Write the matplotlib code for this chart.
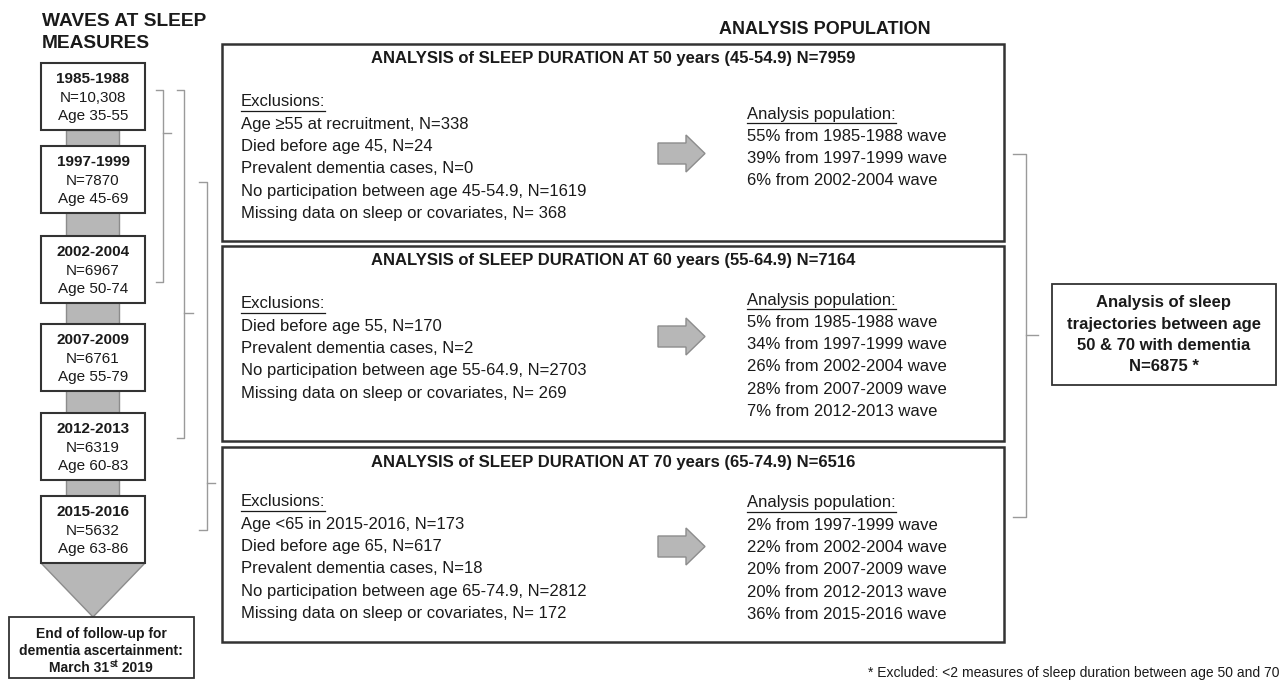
import matplotlib
matplotlib.use('Agg')
import matplotlib.pyplot as plt
from matplotlib.patches import Rectangle, Polygon

plt.rcParams['font.family'] = ['Liberation Sans', 'DejaVu Sans']

# waves of sleep measures
waves = ['1985-1988', '1997-1999', '2002-2004', '2007-2009', '2012-2013', '2015-2016']
wave_n = ['N=10,308', 'N=7870', 'N=6967', 'N=6761', 'N=6319', 'N=5632']
wave_age = ['Age 35-55', 'Age 45-69', 'Age 50-74', 'Age 55-79', 'Age 60-83', 'Age 63-86']

# analysis boxes
titles = ['ANALYSIS of SLEEP DURATION AT 50 years (45-54.9) N=7959',
          'ANALYSIS of SLEEP DURATION AT 60 years (55-64.9) N=7164',
          'ANALYSIS of SLEEP DURATION AT 70 years (65-74.9) N=6516']
exclusions = [
    ['Age \u226555 at recruitment, N=338', 'Died before age 45, N=24',
     'Prevalent dementia cases, N=0', 'No participation between age 45-54.9, N=1619',
     'Missing data on sleep or covariates, N= 368'],
    ['Died before age 55, N=170', 'Prevalent dementia cases, N=2',
     'No participation between age 55-64.9, N=2703',
     'Missing data on sleep or covariates, N= 269'],
    ['Age <65 in 2015-2016, N=173', 'Died before age 65, N=617',
     'Prevalent dementia cases, N=18', 'No participation between age 65-74.9, N=2812',
     'Missing data on sleep or covariates, N= 172'],
]
population = [
    ['55% from 1985-1988 wave', '39% from 1997-1999 wave', '6% from 2002-2004 wave'],
    ['5% from 1985-1988 wave', '34% from 1997-1999 wave', '26% from 2002-2004 wave',
     '28% from 2007-2009 wave', '7% from 2012-2013 wave'],
    ['2% from 1997-1999 wave', '22% from 2002-2004 wave', '20% from 2007-2009 wave',
     '20% from 2012-2013 wave', '36% from 2015-2016 wave'],
]
final_box = ['Analysis of sleep', 'trajectories between age', '50 & 70 with dementia',
             'N=6875 *']
footnote = '* Excluded: <2 measures of sleep duration between age 50 and 70'

TXT = '#1a1a1a'
EDGE = '#333333'
GREY = '#b7b7b7'
GREY_EDGE = '#8c8c8c'
BRK = '#9a9a9a'
BODY = 12

fig = plt.figure(figsize=(12.82, 6.83), dpi=100)
ax = fig.add_axes([0, 0, 1, 1])
ax.set_xlim(0, 1282)
ax.set_ylim(683, 0)
ax.axis('off')

# ---- left column: waves
ax.text(42, 21, 'WAVES AT SLEEP', fontsize=13.8, weight='bold', color=TXT, va='center')
ax.text(42, 44, 'MEASURES', fontsize=13.8, weight='bold', color=TXT, va='center')

box_top = [63, 146, 236, 324, 413, 496]
bh = 67
bx0, bx1 = 41, 145
# grey connector behind the boxes
ax.add_patch(Rectangle((66, box_top[0] + bh), 53, box_top[-1] - box_top[0],
                       facecolor=GREY, edgecolor=GREY_EDGE, lw=1, zorder=1))
for i in range(len(waves)):
    t = box_top[i]
    ax.add_patch(Rectangle((bx0, t), bx1 - bx0, bh, facecolor='white',
                           edgecolor=EDGE, lw=1.5, zorder=2))
    cx = (bx0 + bx1) / 2
    ax.text(cx, t + 16, waves[i], ha='center', va='center', fontsize=11,
            weight='bold', color=TXT, zorder=3)
    ax.text(cx, t + 35, wave_n[i], ha='center', va='center', fontsize=11,
            color=TXT, zorder=3)
    ax.text(cx, t + 53, wave_age[i], ha='center', va='center', fontsize=11,
            color=TXT, zorder=3)

# triangle down to end of follow-up
ax.add_patch(Polygon([(bx0, box_top[-1] + bh), (bx1, box_top[-1] + bh), (93, 617)],
                     closed=True, facecolor=GREY, edgecolor=GREY_EDGE, lw=1, zorder=1))
ax.add_patch(Rectangle((9, 617), 185, 61, facecolor='white', edgecolor=EDGE, lw=1.3, zorder=2))
ax.text(101, 634, 'End of follow-up for', ha='center', va='center', fontsize=10,
        weight='bold', color=TXT)
ax.text(101, 651, 'dementia ascertainment:', ha='center', va='center', fontsize=10,
        weight='bold', color=TXT)

fig.canvas.draw()
r = fig.canvas.get_renderer()
inv = ax.transData.inverted()


def width_of(t):
    bb = t.get_window_extent(renderer=r)
    return bb.width


parts = [('March 31', 10, 0), ('st', 7, -4), (' 2019', 10, 0)]
objs = [ax.text(0, 0, p, fontsize=s, weight='bold') for p, s, _ in parts]
ws = [width_of(o) for o in objs]
for o in objs:
    o.remove()
x = 101 - sum(ws) / 2
for (p, s, dy), w in zip(parts, ws):
    ax.text(x, 668 + dy, p, fontsize=s, weight='bold', color=TXT, va='center', ha='left')
    x += w

# brackets on left (grey thin)
def bracket(xv, y0, y1, ytick, hook, tick):
    ax.plot([xv - hook, xv, xv, xv - hook], [y0, y0, y1, y1], color=BRK, lw=1)
    ax.plot([xv, xv + tick], [ytick, ytick], color=BRK, lw=1)

bracket(163, 90, 282, 133, 7, 8)
bracket(184, 90, 438, 313, 7, 9)
bracket(207, 182, 530, 483, 8, 8)

# ---- middle analysis boxes
ax.text(825, 30, 'ANALYSIS POPULATION', ha='center', va='center', fontsize=13,
        weight='bold', color=TXT)

big_top = [44, 246, 447]
big_bot = [241, 441, 642]
title_y = [58, 261, 462]
exc_y0 = [102, 304, 502]
pop_y0 = [114, 300, 503]
arrow_y = [135, 318, 528]
step = 22.3


def underlined(xp, yp, s):
    t = ax.text(xp, yp, s, fontsize=BODY, color=TXT, va='center', ha='left')
    bb = t.get_window_extent(renderer=r)
    x0, _ = inv.transform((bb.x0, bb.y0))
    x1, _ = inv.transform((bb.x1, bb.y0))
    ax.plot([x0, x1], [yp + 8.5, yp + 8.5], color=TXT, lw=0.9)


for k in range(3):
    ax.add_patch(Rectangle((222, big_top[k]), 782, big_bot[k] - big_top[k],
                           facecolor='white', edgecolor=EDGE, lw=1.8, zorder=0.5))
    ax.text(613, title_y[k], titles[k], ha='center', va='center', fontsize=12,
            weight='bold', color=TXT)
    underlined(241, exc_y0[k], 'Exclusions:')
    for j, line in enumerate(exclusions[k]):
        ax.text(241, exc_y0[k] + step * (j + 1), line, fontsize=BODY, color=TXT,
                va='center', ha='left')
    underlined(747, pop_y0[k], 'Analysis population:')
    for j, line in enumerate(population[k]):
        ax.text(747, pop_y0[k] + step * (j + 1), line, fontsize=BODY, color=TXT,
                va='center', ha='left')
    a = arrow_y[k]
    ax.add_patch(Polygon([(658, a + 8), (686, a + 8), (686, a), (705, a + 18.5),
                          (686, a + 37), (686, a + 29), (658, a + 29)], closed=True,
                         facecolor=GREY, edgecolor=GREY_EDGE, lw=1))

# right bracket + final box
ax.plot([1013, 1026, 1026, 1013], [154, 154, 517, 517], color=BRK, lw=1)
ax.plot([1026, 1038], [335, 335], color=BRK, lw=1)
ax.add_patch(Rectangle((1052, 284), 224, 101, facecolor='white', edgecolor=EDGE, lw=1.3))
for j, line in enumerate(final_box):
    ax.text(1164, 303 + 21.3 * j, line, ha='center', va='center', fontsize=12,
            weight='bold', color=TXT)

ax.text(1279, 673, footnote, fontsize=10, color=TXT, va='center', ha='right')

fig.savefig('out.png', dpi=100)
